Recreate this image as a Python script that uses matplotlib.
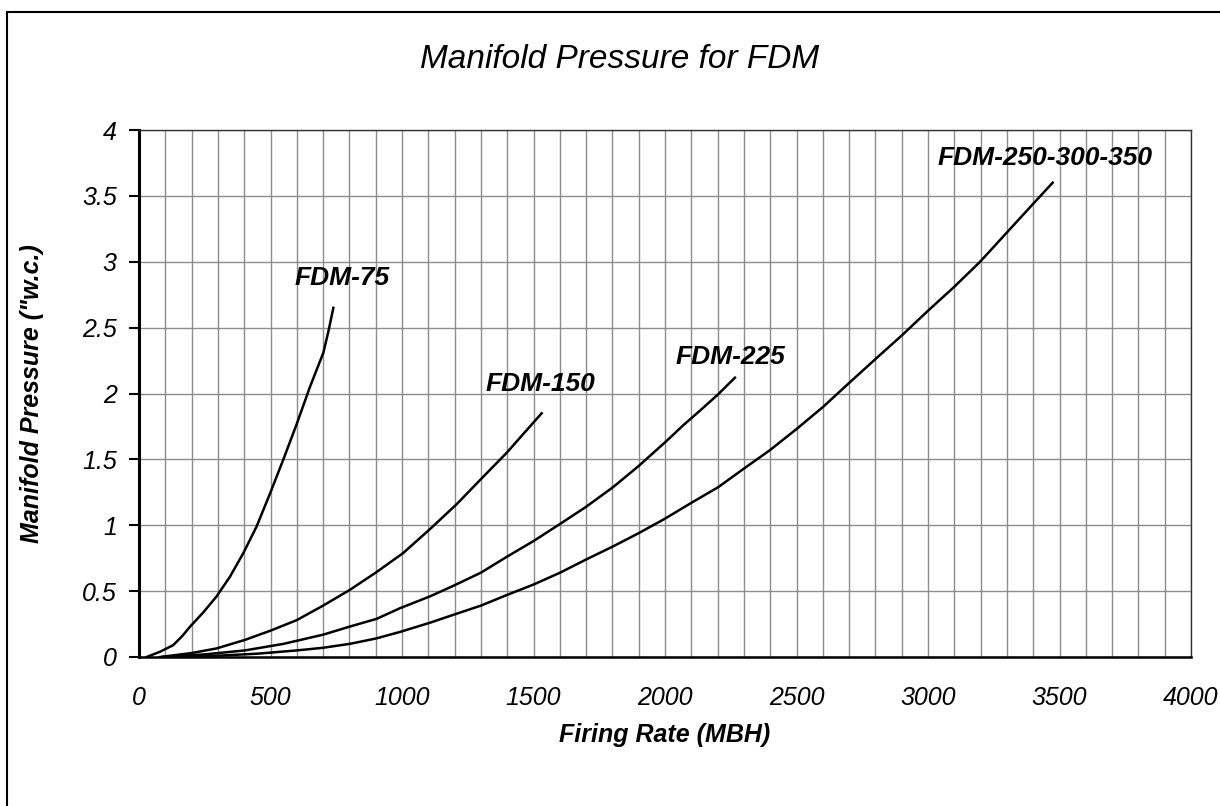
import matplotlib
matplotlib.use('Agg')
from matplotlib import pyplot as plt
from matplotlib.patches import Rectangle
import numpy as np

plt.rcParams['font.family'] = ['Liberation Sans', 'DejaVu Sans']

# curves (firing rate MBH, pressure "w.c.)
fdm75_x = [29, 80, 130, 165, 194, 245, 295, 346, 397, 447, 498, 549, 600, 650, 701, 720, 739]
fdm75_y = [0.0, 0.04, 0.09, 0.16, 0.23, 0.34, 0.46, 0.61, 0.79, 0.99, 1.24, 1.50, 1.77, 2.05, 2.31, 2.47, 2.65]

fdm150_x = [80, 200, 295, 403, 500, 600, 700, 802, 900, 1005, 1106, 1208, 1300, 1398, 1460, 1531]
fdm150_y = [0.0, 0.03, 0.065, 0.13, 0.20, 0.28, 0.39, 0.51, 0.64, 0.79, 0.97, 1.16, 1.35, 1.55, 1.69, 1.85]

fdm225_x = [90, 250, 403, 550, 701, 800, 904, 992, 1106, 1195, 1300, 1398, 1500, 1601, 1700, 1803, 1900, 2006, 2070,
            2133, 2200, 2266]
fdm225_y = [0.0, 0.02, 0.05, 0.10, 0.17, 0.23, 0.29, 0.37, 0.46, 0.54, 0.64, 0.76, 0.88, 1.01, 1.14, 1.29, 1.45, 1.64,
            1.76, 1.87, 1.99, 2.12]

fdm250_x = [100, 300, 450, 600, 700, 802, 900, 992, 1106, 1195, 1300, 1398, 1500, 1601, 1700, 1803, 1900, 2000, 2100,
            2203, 2300, 2399, 2500, 2602, 2700, 2805, 2900, 3001, 3100, 3198, 3299, 3400, 3474]
fdm250_y = [0.0, 0.01, 0.025, 0.05, 0.07, 0.10, 0.14, 0.19, 0.26, 0.32, 0.39, 0.47, 0.55, 0.64, 0.74, 0.84, 0.94, 1.05,
            1.17, 1.29, 1.43, 1.57, 1.73, 1.90, 2.08, 2.27, 2.44, 2.63, 2.81, 3.00, 3.22, 3.44, 3.60]

labels = ['FDM-75', 'FDM-150', 'FDM-225', 'FDM-250-300-350']
label_x = [772, 1525, 2247, 3445]
label_y = [2.88, 2.07, 2.28, 3.79]

yticks = [0, 0.5, 1, 1.5, 2, 2.5, 3, 3.5, 4]
ytick_labels = ['0', '0.5', '1', '1.5', '2', '2.5', '3', '3.5', '4']
xticks = [0, 500, 1000, 1500, 2000, 2500, 3000, 3500, 4000]

fig = plt.figure(figsize=(12.2, 8.06), dpi=100)
fig.set_facecolor('white')

# outer frame (only left/top edges are visible in the picture)
fig.patches.append(Rectangle((7/1220., -0.1), 1.2, 1.1 - 12/806., transform=fig.transFigure,
                             fill=False, edgecolor='black', linewidth=1.5))

ax1 = fig.add_axes([139/1220., 1 - 657/806., 1052/1220., 527/806.])

ax1.set_xlim(0, 4000)
ax1.set_ylim(0, 4)
ax1.set_xticks(xticks)
ax1.set_xticks(np.arange(0, 4001, 100), minor=True)
ax1.set_yticks(yticks)
ax1.set_yticklabels(ytick_labels, fontsize=18, fontstyle='italic')
ax1.set_xticklabels([str(t) for t in xticks], fontsize=18, fontstyle='italic')

ax1.grid(True, which='both', color='#8c8c8c', linewidth=1.0)
ax1.set_axisbelow(True)
ax1.tick_params(axis='x', which='both', length=0, pad=21)
ax1.tick_params(axis='y', which='major', length=7, width=1.5, direction='out', pad=9)
ax1.tick_params(axis='y', which='minor', length=0)

for s in ['top', 'right']:
	ax1.spines[s].set_linewidth(1.0)
	ax1.spines[s].set_color('#333333')
ax1.spines['left'].set_linewidth(2.2)
ax1.spines['bottom'].set_linewidth(1.8)

for xs, ys in [(fdm75_x, fdm75_y), (fdm150_x, fdm150_y), (fdm225_x, fdm225_y), (fdm250_x, fdm250_y)]:
	ax1.plot(xs, ys, color='black', linewidth=1.8, solid_joinstyle='round')

for name, lx, ly in zip(labels, label_x, label_y):
	ax1.text(lx, ly, name, fontsize=19, fontweight='bold', fontstyle='italic', ha='center', va='center')

ax1.set_xlabel('Firing Rate (MBH)', fontsize=18, fontweight='bold', fontstyle='italic')
ax1.set_ylabel('Manifold Pressure ("w.c.)', fontsize=18, fontweight='bold', fontstyle='italic')
ax1.xaxis.set_label_coords(0.5, (657 - 735) / 527.)
ax1.yaxis.set_label_coords((32 - 139) / 1052., 0.5)
ax1.xaxis.label.set_va('center')
ax1.yaxis.label.set_va('center')

fig.text(620/1220., 1 - 60/806., 'Manifold Pressure for FDM', fontsize=24, fontstyle='italic',
         ha='center', va='center')

plt.savefig('out.png', dpi=100, facecolor='white')
